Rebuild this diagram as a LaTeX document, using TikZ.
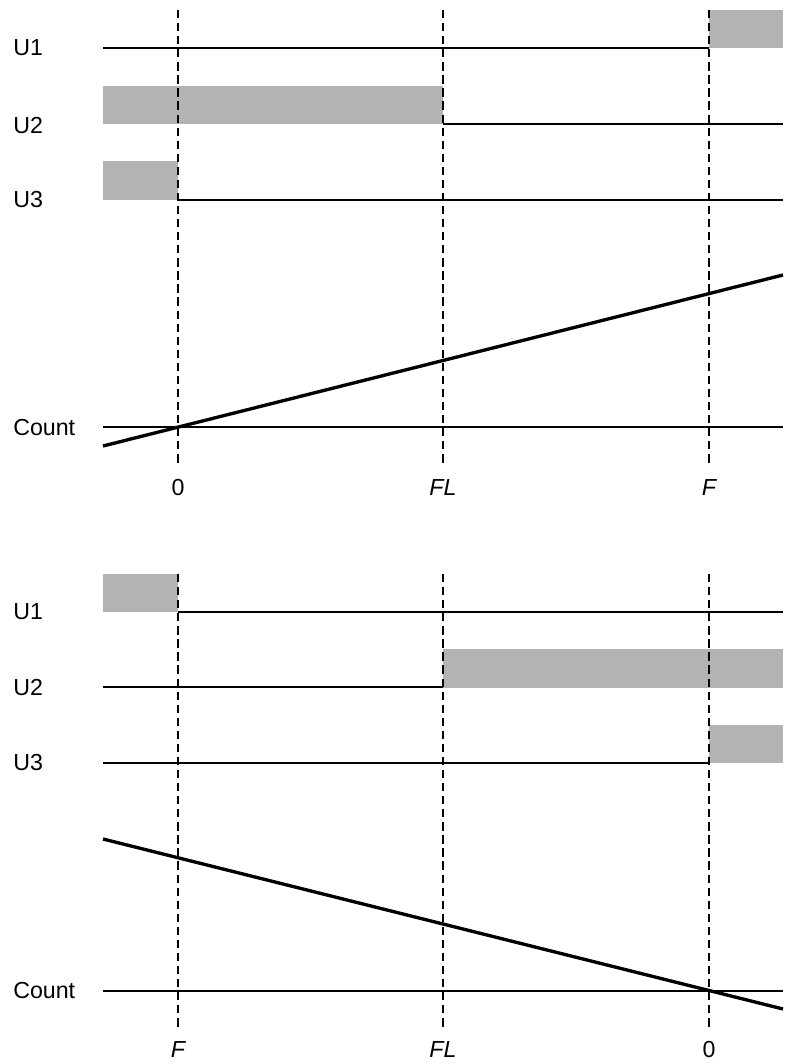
\documentclass[tikz,border=0pt]{standalone}
\usepackage{fontspec}
\setmainfont{Liberation Sans}
\definecolor{busy}{RGB}{179,179,179}
\begin{document}
\begin{tikzpicture}[x=0.75pt,y=-0.75pt,
  sig/.style={line width=1.05pt,black},
  busybox/.style={fill=busy,draw=none},
  marker/.style={line width=1.75pt,dash pattern=on 6.2pt off 3.6pt},
  ramp/.style={line width=2.5pt},
  lbl/.style={font=\fontsize{17.4}{20}\selectfont,inner sep=0pt},
]
\useasboundingbox (0,0) rectangle (787,1063);

% ---------- upper panel ----------
\fill[busybox] (709,10) rectangle (783,48);
\fill[busybox] (103,86) rectangle (443,124);
\fill[busybox] (103,161) rectangle (178,200);

\coordinate (a1s) at (103,48);  \coordinate (a1e) at (709,48);
\coordinate (a2s) at (443,124); \coordinate (a2e) at (783,124);
\coordinate (a3s) at (178,200); \coordinate (a3e) at (783,200);
\coordinate (acs) at (103,427); \coordinate (ace) at (783,427);
\coordinate (ars) at (103,446); \coordinate (are) at (783,275);
\draw[sig] (a1s) -- (a1e);
\draw[sig] (a2s) -- (a2e);
\draw[sig] (a3s) -- (a3e);
\draw[sig] (acs) -- (ace);

\foreach \n/\x in {az/178, afl/443, af/709}{
  \coordinate (\n t) at (\x,10);
  \coordinate (\n b) at (\x,463);
  \draw[marker] (\n t) -- (\n b);
}
\draw[ramp] (ars) -- (are);

\node[lbl,anchor=west] (au1) at (13,48) {U1};
\node[lbl,anchor=west] (au2) at (13,126) {U2};
\node[lbl,anchor=west] (au3) at (13,200) {U3};
\node[lbl,anchor=west] (acnt) at (13,428) {Count};
\node[lbl] (az) at (178,488) {0};
\node[lbl] (afl) at (443,488) {\itshape FL};
\node[lbl] (af) at (709,488) {\itshape F};

% ---------- lower panel ----------
\fill[busybox] (103,574) rectangle (178,612);
\fill[busybox] (443,649) rectangle (783,688);
\fill[busybox] (709,725) rectangle (783,763);

\coordinate (b1s) at (178,612); \coordinate (b1e) at (783,612);
\coordinate (b2s) at (103,687); \coordinate (b2e) at (443,687);
\coordinate (b3s) at (103,763); \coordinate (b3e) at (709,763);
\coordinate (bcs) at (103,991); \coordinate (bce) at (783,991);
\coordinate (brs) at (103,839); \coordinate (bre) at (783,1009);
\draw[sig] (b1s) -- (b1e);
\draw[sig] (b2s) -- (b2e);
\draw[sig] (b3s) -- (b3e);
\draw[sig] (bcs) -- (bce);

\foreach \n/\x in {bf/178, bfl/443, bz/709}{
  \coordinate (\n t) at (\x,574);
  \coordinate (\n b) at (\x,1027);
  \draw[marker] (\n t) -- (\n b);
}
\draw[ramp] (brs) -- (bre);

\node[lbl,anchor=west] (bu1) at (13,612) {U1};
\node[lbl,anchor=west] (bu2) at (13,688) {U2};
\node[lbl,anchor=west] (bu3) at (13,763) {U3};
\node[lbl,anchor=west] (bcnt) at (13,991) {Count};
\node[lbl] (bf) at (178,1050) {\itshape F};
\node[lbl] (bfl) at (443,1050) {\itshape FL};
\node[lbl] (bz) at (709,1050) {0};
\end{tikzpicture}
\end{document}
